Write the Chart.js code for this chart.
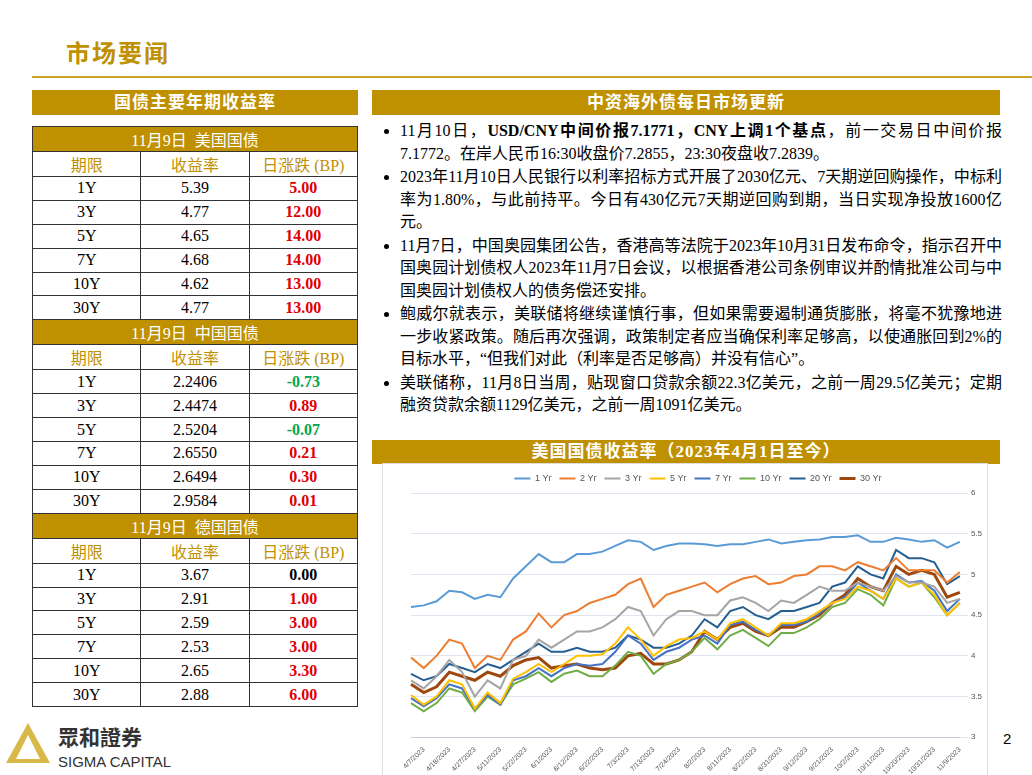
<!DOCTYPE html>
<html><head><meta charset="utf-8">
<script src="https://cdn.jsdelivr.net/npm/chart.js@4"></script>
<style>
body{margin:0;width:1032px;height:775px;background:#fff;position:relative;overflow:hidden;font-family:"Liberation Serif","Noto Sans CJK SC",serif;}
#title{position:absolute;left:66px;top:34px;font-size:24px;font-weight:bold;color:#bf9000;letter-spacing:2px}
#rule{position:absolute;left:32px;top:76px;width:1000px;height:2px;background:#c9a227}
.hdr{position:absolute;background:#bf9000;color:#fff;font-weight:bold;font-size:17px;text-align:center;line-height:25px;letter-spacing:1px}
table{position:absolute;left:32px;top:126px;width:326px;border-collapse:collapse;font-size:16px}
td{border:1px solid #333;height:22.9px;padding:0;text-align:center;width:33%}
td.sec{background:#bf9000;color:#fff;font-weight:normal}
td.h{color:#bf9000}
.r{color:#e00000;font-weight:bold}.g{color:#00a650;font-weight:bold}.k{color:#000;font-weight:bold}
ul{position:absolute;left:378px;top:120px;width:602px;margin:0;padding:0 0 0 22px;font-size:16px;line-height:22.5px;text-align:justify}
li{margin-bottom:1px}
#chartbox{position:absolute;left:382px;top:463px;width:604px;height:312px;border:1px solid #ddd;border-bottom:none}
#pg{position:absolute;left:1003px;top:730px;font-family:"Liberation Sans";font-size:15px}
#logo{position:absolute;left:6px;top:715px;}
</style></head><body>
<div id="title">市场要闻</div>
<div id="rule"></div>
<div class="hdr" style="left:32px;top:90px;width:326px">国债主要年期收益率</div>
<div class="hdr" style="left:372px;top:90px;width:628px">中资海外债每日市场更新</div>
<table id="tbl"></table>
<ul>
<li>11月10日，<b>USD/CNY中间价报7.1771，CNY上调1个基点</b>，前一交易日中间价报7.1772。在岸人民币16:30收盘价7.2855，23:30夜盘收7.2839。</li>
<li>2023年11月10日人民银行以利率招标方式开展了2030亿元、7天期逆回购操作，中标利率为1.80%，与此前持平。今日有430亿元7天期逆回购到期，当日实现净投放1600亿元。</li>
<li>11月7日，中国奥园集团公告，香港高等法院于2023年10月31日发布命令，指示召开中国奥园计划债权人2023年11月7日会议，以根据香港公司条例审议并酌情批准公司与中国奥园计划债权人的债务偿还安排。</li>
<li>鲍威尔就表示，美联储将继续谨慎行事，但如果需要遏制通货膨胀，将毫不犹豫地进一步收紧政策。随后再次强调，政策制定者应当确保利率足够高，以使通胀回到2%的目标水平，“但我们对此（利率是否足够高）并没有信心”。</li>
<li>美联储称，11月8日当周，贴现窗口贷款余额22.3亿美元，之前一周29.5亿美元；定期融资贷款余额1129亿美元，之前一周1091亿美元。</li>
</ul>
<div class="hdr" style="left:372px;top:440px;width:628px;line-height:24px">美国国债收益率（2023年4月1日至今）</div>
<div id="chartbox"><canvas id="c"></canvas></div>
<div id="logo">
<svg width="180" height="58"><polygon points="22,8 44,48 0,48" fill="#d9b84a"/><polygon points="22,20 34,44 10,44" fill="#fff"/>
<text x="52" y="30" font-family="Noto Sans CJK SC" font-size="21" font-weight="bold" fill="#333">眾和證券</text>
<text x="52" y="52" font-family="Liberation Sans" font-size="15" fill="#333">SIGMA CAPITAL</text></svg></div>
<div id="pg">2</div>
<script>
const terms = ['1Y','3Y','5Y','7Y','10Y','30Y'];
const usYield = ['5.39','4.77','4.65','4.68','4.62','4.77'];
const usChg = ['5.00','12.00','14.00','14.00','13.00','13.00'];
const cnYield = ['2.2406','2.4474','2.5204','2.6550','2.6494','2.9584'];
const cnChg = ['-0.73','0.89','-0.07','0.21','0.30','0.01'];
const deYield = ['3.67','2.91','2.59','2.53','2.65','2.88'];
const deChg = ['0.00','1.00','3.00','3.00','3.30','6.00'];

const dates = ['4/3/2023','4/7/2023','4/12/2023','4/18/2023','4/21/2023','4/27/2023','5/3/2023','5/11/2023','5/16/2023','5/22/2023','5/26/2023','6/1/2023','6/6/2023','6/12/2023','6/16/2023','6/22/2023','6/27/2023','7/3/2023','7/7/2023','7/13/2023','7/18/2023','7/24/2023','7/27/2023','8/2/2023','8/7/2023','8/11/2023','8/16/2023','8/22/2023','8/25/2023','8/31/2023','9/6/2023','9/12/2023','9/15/2023','9/21/2023','9/26/2023','10/2/2023','10/5/2023','10/11/2023','10/16/2023','10/20/2023','10/25/2023','10/31/2023','11/3/2023','11/9/2023'];
const y1 = [4.6,4.62,4.67,4.8,4.78,4.7,4.75,4.72,4.95,5.1,5.25,5.15,5.15,5.25,5.25,5.28,5.35,5.42,5.4,5.3,5.35,5.38,5.38,5.37,5.35,5.37,5.37,5.4,5.43,5.38,5.4,5.42,5.43,5.46,5.46,5.48,5.4,5.4,5.45,5.43,5.4,5.42,5.33,5.4];
const y2 = [3.98,3.85,4.0,4.2,4.15,3.85,4.0,3.95,4.2,4.3,4.52,4.35,4.5,4.55,4.65,4.7,4.75,4.88,4.95,4.6,4.75,4.8,4.85,4.9,4.78,4.88,4.95,4.98,4.88,4.9,4.98,5.0,5.1,5.1,5.05,5.15,5.1,5.05,5.2,5.05,5.05,5.05,4.9,5.03];
const y3 = [3.7,3.6,3.75,3.95,3.8,3.5,3.7,3.6,3.95,4.0,4.2,4.1,4.2,4.3,4.3,4.35,4.45,4.6,4.55,4.25,4.45,4.55,4.55,4.5,4.5,4.68,4.72,4.65,4.55,4.68,4.65,4.75,4.85,4.8,4.8,4.9,4.85,4.8,4.98,4.9,4.9,4.85,4.65,4.7];
const y5 = [3.52,3.4,3.5,3.7,3.65,3.35,3.55,3.42,3.72,3.8,3.9,3.8,3.9,4.0,4.0,4.02,4.15,4.35,4.2,4.0,4.12,4.2,4.22,4.3,4.2,4.4,4.45,4.35,4.25,4.4,4.4,4.45,4.55,4.65,4.7,4.85,4.8,4.7,4.95,4.85,4.9,4.75,4.5,4.65];
const y7 = [3.48,3.38,3.48,3.65,3.6,3.35,3.52,3.4,3.7,3.75,3.85,3.75,3.85,3.9,3.88,3.9,4.05,4.25,4.15,3.95,4.05,4.1,4.2,4.25,4.15,4.38,4.42,4.32,4.25,4.38,4.38,4.42,4.52,4.65,4.72,4.9,4.8,4.7,5.0,4.9,4.92,4.8,4.55,4.7];
const y10 = [3.42,3.32,3.42,3.6,3.55,3.32,3.5,3.4,3.65,3.72,3.8,3.68,3.78,3.82,3.75,3.75,3.88,4.05,4.0,3.78,3.9,3.95,4.05,4.22,4.08,4.25,4.32,4.22,4.12,4.28,4.28,4.35,4.45,4.6,4.65,4.82,4.75,4.62,4.95,4.85,4.9,4.72,4.5,4.65];
const y20 = [3.78,3.7,3.75,3.9,3.85,3.8,3.9,3.85,3.95,4.05,4.15,4.05,4.05,4.1,4.05,4.05,4.1,4.25,4.2,4.1,4.1,4.15,4.25,4.45,4.35,4.55,4.6,4.5,4.45,4.55,4.55,4.6,4.65,4.85,4.9,5.1,5.0,4.95,5.3,5.2,5.2,5.15,4.88,4.98];
const y30 = [3.65,3.55,3.62,3.8,3.75,3.7,3.8,3.75,3.88,3.95,3.98,3.85,3.88,3.9,3.85,3.83,3.85,4.0,4.03,3.9,3.9,3.95,4.05,4.3,4.2,4.35,4.4,4.3,4.25,4.35,4.35,4.42,4.5,4.65,4.75,4.95,4.85,4.8,5.1,5.0,5.05,5.0,4.72,4.78];

// build the left table
function section(name, ys, chg) {
  let h = `<tr><td class="sec" colspan="3">11月9日&nbsp; ${name}</td></tr>`;
  h += '<tr><td class="h">期限</td><td class="h">收益率</td><td class="h">日涨跌 (BP)</td></tr>';
  terms.forEach((t, i) => {
    const v = parseFloat(chg[i]);
    const cls = v > 0 ? 'r' : (v < 0 ? 'g' : 'k');
    h += `<tr><td>${t}</td><td>${ys[i]}</td><td class="${cls}">${chg[i]}</td></tr>`;
  });
  return h;
}
document.getElementById('tbl').innerHTML =
  section('美国国债', usYield, usChg) + section('中国国债', cnYield, cnChg) + section('德国国债', deYield, deChg);

const series = [
  ['1 Yr', y1, '#5b9bd5', 2], ['2 Yr', y2, '#ed7d31', 2], ['3 Yr', y3, '#a5a5a5', 2], ['5 Yr', y5, '#ffc000', 2],
  ['7 Yr', y7, '#4472c4', 2], ['10 Yr', y10, '#70ad47', 2], ['20 Yr', y20, '#255e91', 2], ['30 Yr', y30, '#9e480e', 3]
];
new Chart(document.getElementById('c'), {
  type: 'line',
  data: {
    labels: dates,
    datasets: series.map(s => ({ label: s[0], data: s[1], borderColor: s[2], backgroundColor: s[2], borderWidth: s[3], pointRadius: 0, tension: 0 }))
  },
  options: {
    responsive: true, maintainAspectRatio: false, animation: false,
    layout: { padding: { left: 28, top: 2, right: 2 } },
    plugins: {
      legend: { labels: { boxWidth: 16, boxHeight: 0, font: { size: 9, family: 'Liberation Sans' }, color: '#555', padding: 8 } },
      tooltip: { enabled: false }
    },
    scales: {
      x: {
        grid: { display: false },
        ticks: { autoSkip: false, maxRotation: 45, minRotation: 45, font: { size: 7, family: 'Liberation Sans' }, color: '#555', padding: 0,
          callback: (v, i) => i % 2 === 1 ? dates[i] : '' }
      },
      y: {
        position: 'right', min: 3, max: 6,
        ticks: { stepSize: 0.5, font: { size: 8, family: 'Liberation Sans' }, color: '#555', callback: v => String(v) },
        grid: { color: '#dde6f0' }, border: { display: false }
      }
    }
  }
});
</script>
</body></html>
